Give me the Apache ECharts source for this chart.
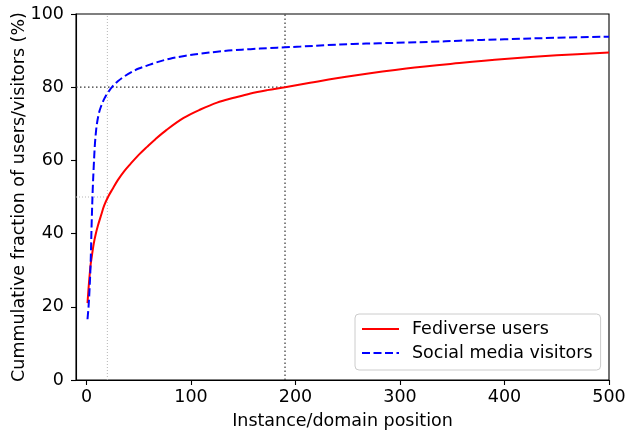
<!DOCTYPE html>
<html>
<head>
<meta charset="utf-8">
<script src="https://cdn.jsdelivr.net/npm/echarts@6/dist/echarts.min.js"></script>
<style>
html,body{margin:0;padding:0;background:#fff;}
#chart{width:626px;height:432px;}
</style>
</head>
<body>
<div id="chart"></div>
<script>
// Data
const fediX = [1, 2, 3, 4, 5, 6, 7, 9, 11, 14, 17, 21, 25, 30, 36, 42, 50, 58, 66, 77, 93, 109, 125, 141, 157, 173, 190, 214, 255, 306, 357, 400, 450, 500];
const fediY = [21, 25, 28.5, 31.5, 33.5, 35.5, 37.3, 40.0, 42.2, 45, 47.7, 50.2, 52.2, 54.6, 57, 59, 61.5, 63.7, 65.8, 68.4, 71.6, 73.9, 75.8, 77.1, 78.3, 79.2, 80.0, 81.2, 83.1, 85.1, 86.6, 87.7, 88.7, 89.5];
const socialX = [1, 2, 3, 4, 5, 6, 7, 8, 9, 10, 12, 14, 17, 20, 25, 30, 36, 43, 50, 58, 66, 80, 95, 110, 125, 140, 157, 175, 190, 205, 230, 255, 280, 306, 330, 357, 400, 450, 500];
const socialY = [16.6, 20, 25, 32, 43, 52, 58.5, 64, 67.5, 70, 73, 74.8, 76.8, 78.3, 80.2, 81.6, 82.9, 84.1, 85.1, 85.9, 86.7, 87.8, 88.6, 89.2, 89.7, 90.1, 90.4, 90.7, 90.9, 91.1, 91.5, 91.8, 92.0, 92.2, 92.4, 92.7, 93.1, 93.5, 93.8];
const xTicks = [0, 100, 200, 300, 400, 500];
const xRange = [-10, 500];
const yRange = [0, 100];
// Reference markers: (x position, y level)
const grayRef = [20, 50];
const blackRef = [190, 80];
const seriesNames = ['Fediverse users', 'Social media visitors'];

const zip = (a, b) => a.map((v, i) => [v, b[i]]);
const FONT = 'DejaVu Sans';
const FS = 17.5;

function refSeries(ref, color, w, dash) {
  return [
    {type: 'line', silent: true, symbol: 'none', animation: false, z: 1,
     data: [[ref[0], yRange[0]], [ref[0], yRange[1]]],
     lineStyle: {color: color, width: w, type: dash}},
    {type: 'line', silent: true, symbol: 'none', animation: false, z: 1,
     data: [[xRange[0], ref[1]], [ref[0], ref[1]]],
     lineStyle: {color: color, width: w, type: dash}}
  ];
}

const chart = echarts.init(document.getElementById('chart'), null, {renderer: 'canvas'});
chart.setOption({
  animation: false,
  backgroundColor: '#fff',
  textStyle: {fontFamily: FONT},
  grid: {left: 76, right: 17, top: 14, bottom: 52, show: true, borderColor: '#000', borderWidth: 1.1,
         containLabel: false, outerBoundsMode: 'none'},
  xAxis: {
    type: 'value', min: xRange[0], max: xRange[1],
    name: 'Instance/domain position', nameLocation: 'middle', nameGap: 32,
    nameTextStyle: {fontFamily: FONT, fontSize: FS, color: '#000'},
    axisLine: {show: true, onZero: false, lineStyle: {color: '#000', width: 1.1}},
    axisTick: {show: true, length: 5, lineStyle: {color: '#000', width: 1.1}, customValues: xTicks},
    axisLabel: {fontFamily: FONT, fontSize: FS, color: '#000', margin: 8, customValues: xTicks, hideOverlap: false},
    splitLine: {show: false}
  },
  yAxis: {
    type: 'value', min: yRange[0], max: yRange[1], interval: 20,
    name: 'Cummulative fraction of users/visitors (%)', nameLocation: 'middle', nameGap: 48,
    nameMoveOverlap: false,
    nameTextStyle: {fontFamily: FONT, fontSize: FS, color: '#000'},
    axisLine: {show: true, onZero: false, lineStyle: {color: '#000', width: 1.1}},
    axisTick: {show: true, length: 5, lineStyle: {color: '#000', width: 1.1}},
    axisLabel: {fontFamily: FONT, fontSize: FS, color: '#000', margin: 12},
    splitLine: {show: false}
  },
  legend: {
    data: seriesNames,
    orient: 'vertical',
    left: 355, top: 314,
    padding: [5, 8, 7, 6],
    itemWidth: 37, itemHeight: 14, itemGap: 4,
    itemStyle: {opacity: 0},
    backgroundColor: 'rgba(255,255,255,0.8)',
    borderColor: '#cccccc', borderWidth: 1, borderRadius: 4,
    textStyle: {fontFamily: FONT, fontSize: FS, color: '#000', lineHeight: 20, padding: [0, 0, 0, 8]}
  },
  series: [
    ...refSeries(grayRef, '#b5b5b5', 1, [1, 2]),
    ...refSeries(blackRef, '#333333', 1.2, [1.5, 2.5]),
    {name: seriesNames[0], type: 'line', symbol: 'none', z: 3,
     data: zip(fediX, fediY), smooth: 0.35,
     lineStyle: {color: '#ff0000', width: 2}, itemStyle: {color: '#ff0000'}},
    {name: seriesNames[1], type: 'line', symbol: 'none', z: 3,
     data: zip(socialX, socialY), smooth: 0.35,
     lineStyle: {color: '#0000ff', width: 2, type: [8, 3.5]}, itemStyle: {color: '#0000ff'}}
  ]
});
</script>
</body>
</html>
